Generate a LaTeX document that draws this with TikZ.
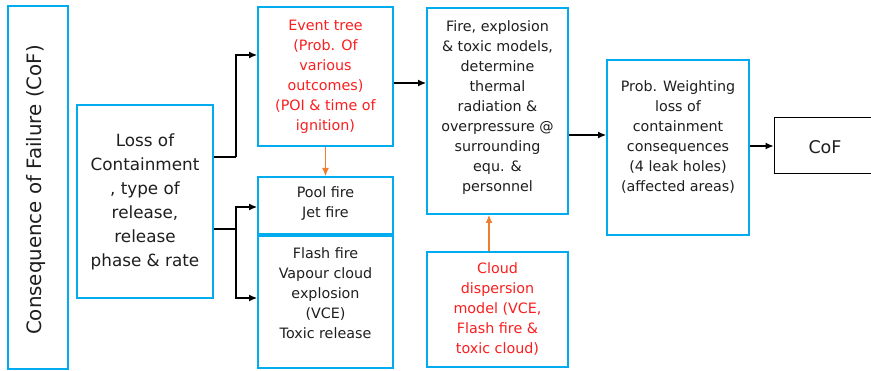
\documentclass[tikz,border=0pt]{standalone}
\usepackage{fontspec}
\setmainfont{DejaVu Sans}
\usetikzlibrary{arrows.meta}
\definecolor{boxblue}{RGB}{0,172,238}
\definecolor{txtred}{RGB}{250,30,30}
\definecolor{arrorange}{RGB}{237,125,49}
\definecolor{txtdark}{RGB}{30,30,30}
\begin{document}
\begin{tikzpicture}[x=1pt,y=-1pt,
  bluebox/.style={draw=boxblue,line width=2pt,rectangle,inner sep=0pt,text=txtdark,align=center,font=\fontsize{14.3}{20}\selectfont},
  blackbox/.style={draw=black,line width=1pt,rectangle,inner sep=0pt,text=txtdark,align=center},
  txt/.style={align=center,text=txtdark,font=\fontsize{14.3}{20}\selectfont,inner sep=0pt},
  redtxt/.style={txt,text=txtred},
  arr/.style={draw=black,line width=1.1pt,-{Latex[length=8pt,width=7pt]}},
  oarr/.style={draw=arrorange,line width=1.1pt,-{Latex[length=8pt,width=7pt]}},
  plain/.style={draw=black,line width=1.1pt}]
\useasboundingbox (0,0) rectangle (871,371);
% boxes
\node[bluebox,minimum width=60pt,minimum height=363pt] (cofv) at (38,187.5) {};
\node[txt,rotate=90,font=\fontsize{19.8}{22}\selectfont] (cofvt) at (36,190) {Consequence of Failure (CoF)};
\node[bluebox,minimum width=136pt,minimum height=193pt,font=\fontsize{16.8}{24}\selectfont] (loss) at (145,201.5)
  {Loss of\\Containment\\, type of\\release,\\release\\phase \& rate};
\node[bluebox,minimum width=135pt,minimum height=139pt,text=txtred] (event) at (325.5,76.5)
  {Event tree\\(Prob. Of\\various\\outcomes)\\(POI \& time of\\ignition)};
\node[bluebox,minimum width=135pt,minimum height=57pt] (pool) at (325.5,205.5) {};
\node[txt] (poolt) at ([yshift=2pt]pool.center) {Pool fire\\Jet fire};
\node[bluebox,minimum width=135pt,minimum height=132pt] (flash) at (325.5,302) {};
\node[txt] (flasht) at ([yshift=9pt]flash.center) {Flash fire\\Vapour cloud\\explosion\\(VCE)\\Toxic release};
\node[bluebox,minimum width=141pt,minimum height=206pt] (fire) at (497.5,111) {};
\node[txt] (firet) at ([yshift=3pt]fire.center) {Fire, explosion\\\& toxic models,\\determine\\thermal\\radiation \&\\overpressure @\\surrounding\\equ. \&\\personnel};
\node[bluebox,minimum width=141pt,minimum height=115pt,text=txtred] (cloud) at (497.5,309.5)
  {Cloud\\dispersion\\model (VCE,\\Flash fire \&\\toxic cloud)};
\node[bluebox,minimum width=142pt,minimum height=175pt] (prob) at (678,147.5) {};
\node[txt] (probt) at ([yshift=10pt]prob.center) {Prob. Weighting\\loss of\\containment\\consequences\\(4 leak holes)\\(affected areas)};
\node[blackbox,minimum width=100pt,minimum height=56pt] (cof) at (824,146) {};
\node[txt,font=\fontsize{17.5}{20}\selectfont] (coft) at (825,147) {CoF};
% connectors
\coordinate (j1) at (236,157);
\coordinate (j2) at (236,229);
\draw[plain] (loss.east |- j1) -- (j1);
\draw[arr] (j1) |- (event.west |- 0,55);
\draw[plain] (loss.east |- j2) -- (j2);
\draw[arr] (j2) |- (pool.west |- 0,207);
\draw[arr] (j2) |- (flash.west |- 0,298);
\draw[oarr] (event.south) -- (pool.north);
\draw[arr] (event.east |- 0,83) -- (fire.west |- 0,83);
\draw[oarr] (cloud.north -| 489,0) -- (fire.south -| 489,0);
\draw[arr] (fire.east |- 0,135) -- (prob.west |- 0,135);
\draw[arr] (prob.east |- 0,146) -- (cof.west |- 0,146);
\end{tikzpicture}
\end{document}
